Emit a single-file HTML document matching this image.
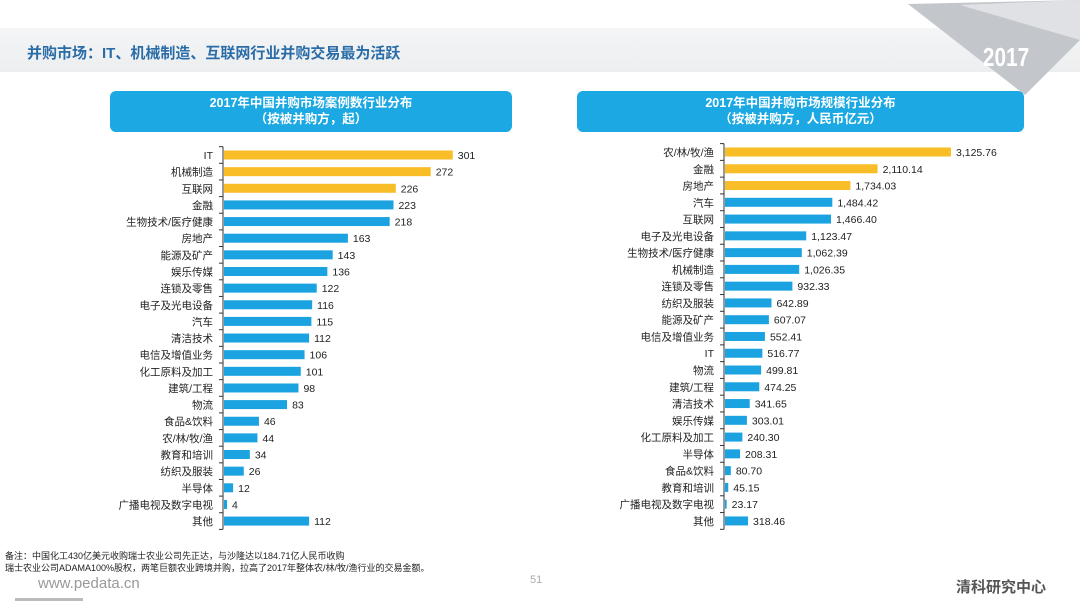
<!DOCTYPE html>
<html><head><meta charset="utf-8"><style>
body{margin:0;width:1080px;height:608px;background:#fff;font-family:"Liberation Sans","Noto Sans CJK SC",sans-serif;position:relative;overflow:hidden}
.band{position:absolute;left:0;top:28px;width:1080px;height:44px;background:linear-gradient(#f4f5f6,#eceeef)}
.title{position:absolute;left:27px;top:42px;font-size:15px;font-weight:bold;color:#2a6ca8}
.hdr{position:absolute;background:#1ba8e3;border-radius:6px;color:#fff;font-size:12.5px;font-weight:bold;text-align:center;line-height:16px;padding-top:4px}
svg text{font-family:"Liberation Sans","Noto Sans CJK SC",sans-serif}
.note{position:absolute;left:5px;top:550px;font-size:9px;line-height:12px;color:#222}
</style></head><body>
<div class="band"></div>
<div class="title">并购市场：IT、机械制造、互联网行业并购交易最为活跃</div>
<svg style="position:absolute;left:900px;top:0" width="180" height="100">
<polygon points="8,4 180,0 180,40 125,95" fill="#c3c6cb"/>
<polygon points="60,5 180,0 180,40" fill="#dfe1e4"/>
<text x="0" y="0" transform="translate(106,66) scale(0.8,1)" font-size="26" font-weight="bold" fill="#fff" text-anchor="middle">2017</text>
</svg>
<div class="hdr" style="left:110px;top:91px;width:402px;height:37px">2017年中国并购市场案例数行业分布<br>（按被并购方，起）</div>
<div class="hdr" style="left:577px;top:91px;width:447px;height:37px">2017年中国并购市场规模行业分布<br>（按被并购方，人民币亿元）</div>
<svg id="chart" style="position:absolute;left:0;top:0" width="1080" height="608"></svg>
<div class="note">备注：中国化工430亿美元收购瑞士农业公司先正达，与沙隆达以184.71亿人民币收购<br>瑞士农业公司ADAMA100%股权，两笔巨额农业跨境并购，拉高了2017年整体农/林/牧/渔行业的交易金额。</div>
<div style="position:absolute;left:38px;top:575px;font-size:15px;color:#999">www.pedata.cn</div>
<div style="position:absolute;left:15px;top:598px;width:68px;height:3px;background:#bbb"></div>
<div style="position:absolute;left:530px;top:574px;font-size:11px;color:#aaa">51</div>
<div style="position:absolute;left:956px;top:576px;font-size:15px;font-weight:bold;color:#555">清科研究中心</div>
<script>
const leftCats=["IT","机械制造","互联网","金融","生物技术/医疗健康","房地产","能源及矿产","娱乐传媒","连锁及零售","电子及光电设备","汽车","清洁技术","电信及增值业务","化工原料及加工","建筑/工程","物流","食品&饮料","农/林/牧/渔","教育和培训","纺织及服装","半导体","广播电视及数字电视","其他"];
const leftVals=[301,272,226,223,218,163,143,136,122,116,115,112,106,101,98,83,46,44,34,26,12,4,112];
const leftLabels=["301","272","226","223","218","163","143","136","122","116","115","112","106","101","98","83","46","44","34","26","12","4","112"];
const rightCats=["农/林/牧/渔","金融","房地产","汽车","互联网","电子及光电设备","生物技术/医疗健康","机械制造","连锁及零售","纺织及服装","能源及矿产","电信及增值业务","IT","物流","建筑/工程","清洁技术","娱乐传媒","化工原料及加工","半导体","食品&饮料","教育和培训","广播电视及数字电视","其他"];
const rightVals=[3125.76,2110.14,1734.03,1484.42,1466.40,1123.47,1062.39,1026.35,932.33,642.89,607.07,552.41,516.77,499.81,474.25,341.65,303.01,240.30,208.31,80.70,45.15,23.17,318.46];
const rightLabels=["3,125.76","2,110.14","1,734.03","1,484.42","1,466.40","1,123.47","1,062.39","1,026.35","932.33","642.89","607.07","552.41","516.77","499.81","474.25","341.65","303.01","240.30","208.31","80.70","45.15","23.17","318.46"];
const svg=document.getElementById('chart');
const NS='http://www.w3.org/2000/svg';
function mk(t,a){const e=document.createElementNS(NS,t);for(const k in a)e.setAttribute(k,a[k]);svg.appendChild(e);return e;}
function draw(cats,vals,labels,x0,scale,y0,step,pre){
  const yf=i=>y0+i*step;
  const ax=mk('line',{x1:x0,x2:x0,y1:yf(0)-step/2,y2:yf(cats.length-1)+step/2,stroke:'#333','stroke-width':1});
  
  
  for(let i=0;i<=cats.length;i++){const tk=mk('line',{x1:x0-4,x2:x0,y1:yf(i)-step/2,y2:yf(i)-step/2,stroke:'#333'});
    
    }
  cats.forEach((c,i)=>{
    const y=yf(i);
    const w=vals[i]*scale;
    const r=mk('rect',{x:x0+1,y:y-4.5,width:w,height:9,fill:i<3?'#f8bd27':'#1aa3e0'});
    
    
    const t=mk('text',{x:x0-10,y:y+4,'font-size':10.5,'text-anchor':'end',fill:'#222'});t.textContent=c;
    
    
    const v=mk('text',{x:x0+w+6,y:y+4,'font-size':10.5,fill:'#222'});v.textContent=labels[i];
    
    
  });
}
draw(leftCats,leftVals,leftLabels,223,0.76,155,16.64,'left');
draw(rightCats,rightVals,rightLabels,724,0.0723,152,16.77,'right');
</script>
</body></html>
